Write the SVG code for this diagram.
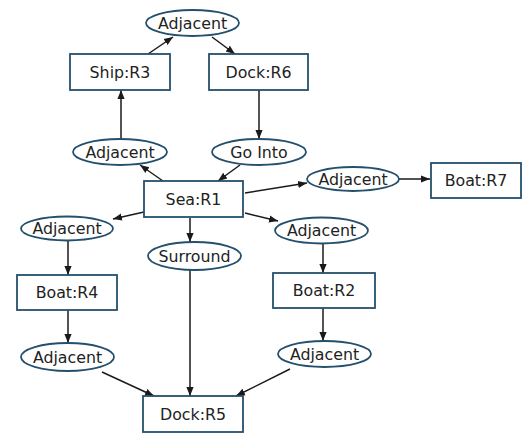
<svg xmlns="http://www.w3.org/2000/svg" width="523" height="433" viewBox="0 0 523 433">
<defs>
<marker id="ah" viewBox="0 0 10 10" refX="10" refY="5" markerWidth="9" markerHeight="9" markerUnits="userSpaceOnUse" orient="auto">
<path d="M0,1 L10,5 L0,9 z" fill="#1a1a1a"/>
</marker>
</defs>
<style>
.box{fill:#fff;stroke:#24506e;stroke-width:1.8}
.ell{fill:#fff;stroke:#24506e;stroke-width:1.8}
.t{font-family:"DejaVu Sans",sans-serif;font-size:15.8px;fill:#222;text-anchor:middle}
.c{stroke:#1a1a1a;stroke-width:1.5;fill:none;marker-end:url(#ah)}
</style>
<rect width="523" height="433" fill="#fff"/>
<g id="connectors">
<line class="c" x1="148" y1="54" x2="173" y2="37"/>
<line class="c" x1="212" y1="37" x2="235" y2="54"/>
<line class="c" x1="121" y1="139" x2="121" y2="90"/>
<line class="c" x1="259" y1="90" x2="259" y2="139"/>
<line class="c" x1="163" y1="181" x2="140" y2="165"/>
<line class="c" x1="240" y1="165" x2="218" y2="181"/>
<line class="c" x1="245" y1="193" x2="307" y2="183"/>
<line class="c" x1="399" y1="179" x2="430" y2="179"/>
<line class="c" x1="144" y1="212" x2="113" y2="219"/>
<line class="c" x1="190" y1="218" x2="190" y2="242"/>
<line class="c" x1="245" y1="213" x2="278" y2="221"/>
<line class="c" x1="68" y1="240" x2="68" y2="275"/>
<line class="c" x1="323" y1="244" x2="323" y2="273"/>
<line class="c" x1="68" y1="310" x2="68" y2="343"/>
<line class="c" x1="323" y1="308" x2="323" y2="341"/>
<line class="c" x1="190" y1="270" x2="190" y2="396"/>
<line class="c" x1="102" y1="372" x2="154" y2="396"/>
<line class="c" x1="290" y1="369" x2="236" y2="396"/>
</g>
<g id="adj_top"><ellipse class="ell" cx="192.5" cy="23" rx="46.5" ry="13"/><text class="t" x="192.5" y="28.5">Adjacent</text></g>
<g id="ship_r3"><rect class="box" x="70" y="54" width="100" height="36"/><text class="t" x="120" y="77.5">Ship:R3</text></g>
<g id="dock_r6"><rect class="box" x="209" y="54" width="99" height="36"/><text class="t" x="258.5" y="77.5">Dock:R6</text></g>
<g id="adj_ship"><ellipse class="ell" cx="120" cy="152" rx="47" ry="13"/><text class="t" x="120" y="157.5">Adjacent</text></g>
<g id="gointo"><ellipse class="ell" cx="259" cy="152" rx="47" ry="13"/><text class="t" x="259" y="157.5">Go Into</text></g>
<g id="sea_r1"><rect class="box" x="144" y="181" width="99" height="36"/><text class="t" x="193.5" y="204.5">Sea:R1</text></g>
<g id="adj_r7"><ellipse class="ell" cx="353" cy="179" rx="46" ry="12"/><text class="t" x="353" y="184.5">Adjacent</text></g>
<g id="boat_r7"><rect class="box" x="431" y="163" width="90" height="35"/><text class="t" x="476" y="186">Boat:R7</text></g>
<g id="adj_r4"><ellipse class="ell" cx="67" cy="228.5" rx="46" ry="12"/><text class="t" x="67" y="234">Adjacent</text></g>
<g id="surround"><ellipse class="ell" cx="194.5" cy="256" rx="46.5" ry="14"/><text class="t" x="194.5" y="261.5">Surround</text></g>
<g id="adj_r2"><ellipse class="ell" cx="321.5" cy="230.5" rx="46.5" ry="13"/><text class="t" x="321.5" y="236">Adjacent</text></g>
<g id="boat_r4"><rect class="box" x="17" y="275" width="100" height="35"/><text class="t" x="67" y="298">Boat:R4</text></g>
<g id="boat_r2"><rect class="box" x="273" y="273" width="102" height="35"/><text class="t" x="324" y="296">Boat:R2</text></g>
<g id="adj_r4b"><ellipse class="ell" cx="67.5" cy="357" rx="46.5" ry="14"/><text class="t" x="67.5" y="362.5">Adjacent</text></g>
<g id="adj_r2b"><ellipse class="ell" cx="324.5" cy="354" rx="46.5" ry="13"/><text class="t" x="324.5" y="359.5">Adjacent</text></g>
<g id="dock_r5"><rect class="box" x="143" y="396" width="100" height="36"/><text class="t" x="193" y="419.5">Dock:R5</text></g>
</svg>
